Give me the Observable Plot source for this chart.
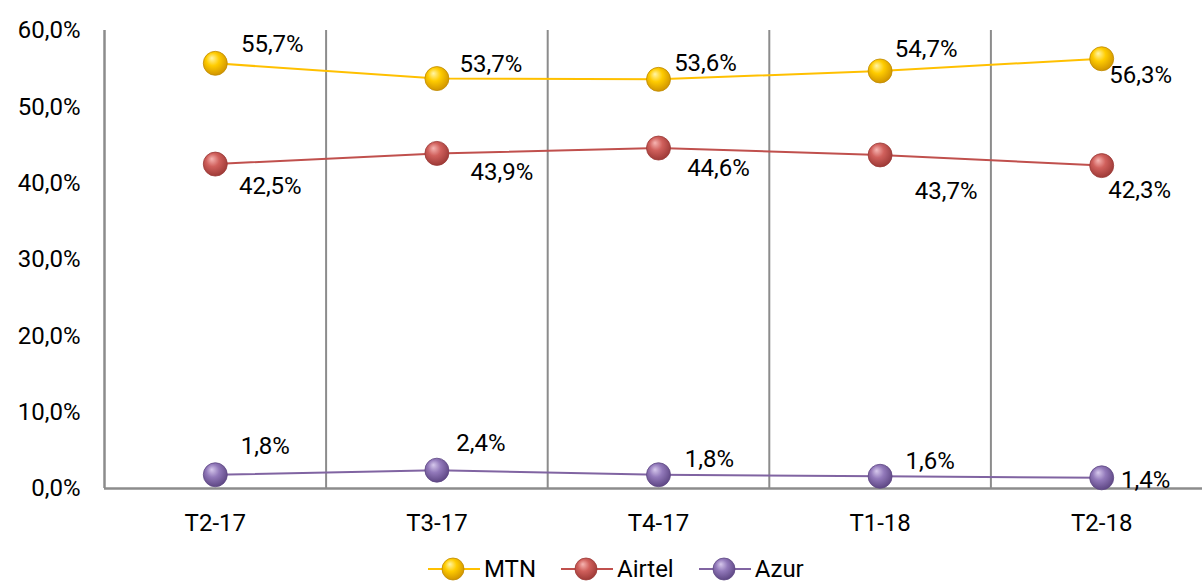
<!DOCTYPE html>
<html>
<head>
<meta charset="utf-8">
<script src="https://cdn.jsdelivr.net/npm/d3@7"></script>
<script src="https://cdn.jsdelivr.net/npm/@observablehq/plot@0.6"></script>
<style>
  html, body { margin: 0; padding: 0; background: #fff; overflow: hidden; }
  body { width: 1202px; height: 583px; font-family: Roboto, "Liberation Sans", Arial, sans-serif; }
  #legend { display: flex; align-items: center; height: 42px; line-height: 26px; padding-left: 428px; font-size: 24px; color: #000; }
  .item { display: flex; align-items: center; margin-right: 25px; }
  .item svg { margin-right: 4px; }
</style>
</head>
<body>
<svg width="0" height="0" style="position:absolute">
  <defs id="gdefs"></defs>
</svg>
<div id="chart"></div>
<div id="legend"></div>
<script>
const categories = ["T2-17", "T3-17", "T4-17", "T1-18", "T2-18"];
const seriesNames = ["MTN", "Airtel", "Azur"];
const mtn = [55.7, 53.7, 53.6, 54.7, 56.3];
const airtel = [42.5, 43.9, 44.6, 43.7, 42.3];
const azur = [1.8, 2.4, 1.8, 1.6, 1.4];
const yTicks = [0, 10, 20, 30, 40, 50, 60];

// styling (not data)
const lineColors = { MTN: "#FFC000", Airtel: "#C0504D", Azur: "#8064A2" };
const sphere = {
  MTN:    { hi: "#FFF5A8", mid: "#FFCC00", lo: "#D09400", stroke: "#C08A00" },
  Airtel: { hi: "#F6B5B2", mid: "#D0605C", lo: "#9E3A37", stroke: "#9A3A37" },
  Azur:   { hi: "#D6C8EC", mid: "#9279BA", lo: "#5E4784", stroke: "#5E4784" }
};
// label offsets in px [dx, dy] per series per category (layout)
const labelOffsets = {
  MTN:    [[57, -19], [54, -14], [47, -16], [46, -22], [39, 17]],
  Airtel: [[55, 22], [65, 19], [60, 20], [66, 36], [38, 25]],
  Azur:   [[50, -28], [44, -27], [51, -15], [50, -15], [44, 2]]
};

const valuesBy = { MTN: mtn, Airtel: airtel, Azur: azur };
const data = seriesNames.flatMap(s => valuesBy[s].map((v, i) => ({ series: s, i, cat: categories[i], value: v })));
const fmt = v => v.toFixed(1).replace(".", ",") + "%";

// gradient defs
const NS = "http://www.w3.org/2000/svg";
const gdefs = document.getElementById("gdefs");
for (const s of seriesNames) {
  const g = document.createElementNS(NS, "radialGradient");
  g.setAttribute("id", "g-" + s);
  g.setAttribute("cx", "0.45"); g.setAttribute("cy", "0.4");
  g.setAttribute("r", "0.6");
  g.setAttribute("fx", "0.35"); g.setAttribute("fy", "0.28");
  [[0, sphere[s].hi], [0.45, sphere[s].mid], [1, sphere[s].lo]].forEach(([o, c]) => {
    const st = document.createElementNS(NS, "stop");
    st.setAttribute("offset", o); st.setAttribute("stop-color", c);
    g.appendChild(st);
  });
  gdefs.appendChild(g);
}

const idx = d3.range(categories.length);
const boundaries = d3.range(1, categories.length).map(i => i - 0.5);

const marks = [
  Plot.ruleX(boundaries, { y1: 0, y2: 60, stroke: "#8C8C8C", strokeWidth: 2 }),
  Plot.ruleX([-0.5], { y1: 0, y2: 60, stroke: "#8C8C8C", strokeWidth: 2.5 }),
  Plot.ruleY([0], { x1: -0.5, x2: categories.length - 0.5, stroke: "#8C8C8C", strokeWidth: 2.5 }),
  Plot.axisY({ ticks: yTicks, tickFormat: fmt, tickSize: 0, tickPadding: 24, label: null, fontSize: 24 }),
  Plot.axisX({ ticks: idx, tickFormat: i => categories[i], tickSize: 0, tickPadding: 25, label: null, fontSize: 24 })
];
for (const s of seriesNames) {
  const sd = data.filter(d => d.series === s);
  marks.push(Plot.line(sd, { x: "i", y: "value", stroke: lineColors[s], strokeWidth: 2 }));
}
for (const s of seriesNames) {
  const sd = data.filter(d => d.series === s);
  marks.push(Plot.dot(sd, { x: "i", y: "value", r: 12, fill: `url(#g-${s})`, stroke: sphere[s].stroke, strokeWidth: 0.8 }));
}
for (const s of seriesNames) {
  data.filter(d => d.series === s).forEach(d => {
    const [dx, dy] = labelOffsets[s][d.i];
    marks.push(Plot.text([d], { x: "i", y: "value", text: dd => fmt(dd.value), dx, dy, fontSize: 24, fill: "#000" }));
  });
}

const chart = Plot.plot({
  width: 1202,
  height: 548,
  marginTop: 30,
  marginBottom: 60,
  marginLeft: 104,
  marginRight: 0,
  style: { fontFamily: "Roboto, 'Liberation Sans', Arial, sans-serif", fontSize: "24px", color: "#000", background: "#fff", overflow: "hidden" },
  x: { type: "linear", domain: [-0.5, categories.length - 0.5], range: [104, 1212] },
  y: { domain: [0, 60] },
  marks
});
document.getElementById("chart").appendChild(chart);

// legend
const legend = document.getElementById("legend");
for (const s of seriesNames) {
  const item = document.createElement("div");
  item.className = "item";
  item.innerHTML = `<svg width="52" height="26" viewBox="0 0 52 26">
    <line x1="0" x2="52" y1="13" y2="13" stroke="${lineColors[s]}" stroke-width="2"/>
    <circle cx="25" cy="13" r="11" fill="url(#g-${s})" stroke="${sphere[s].stroke}" stroke-width="0.8"/>
  </svg><span>${s}</span>`;
  legend.appendChild(item);
}
</script>
</body>
</html>
